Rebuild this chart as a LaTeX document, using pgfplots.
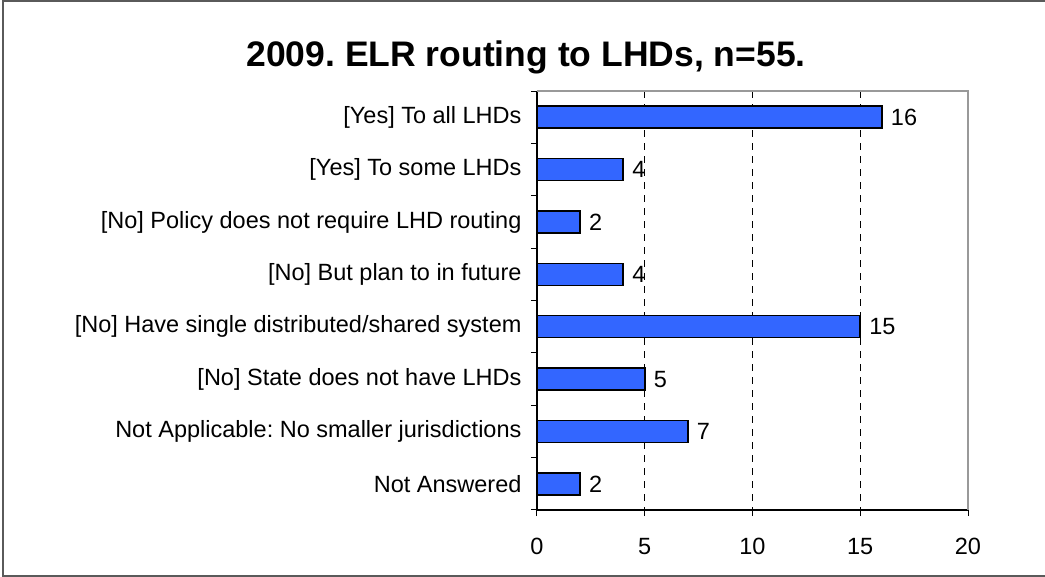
\documentclass[border=0pt]{standalone}
\usepackage{fontspec}
\setmainfont{Liberation Sans}
\usepackage{pgfplots}
\pgfplotsset{compat=1.18}
\definecolor{barblue}{RGB}{51,102,255}
\definecolor{framegray}{RGB}{90,90,90}
\frenchspacing
\begin{document}
\begin{tikzpicture}
  \useasboundingbox (0pt,0pt) rectangle (1045pt,577pt);
  % outer chart frame (right edge is cut off in the source)
  \draw[framegray, line width=2pt] (1045pt,1pt) -- (3pt,1pt) -- (3pt,576pt) -- (1045pt,576pt);
  \node[anchor=base, inner sep=0pt, font=\bfseries\fontsize{35.5}{40}\selectfont] at (526pt,510pt)
    {2009. ELR routing to LHDs, n=55.};
  \begin{axis}[
      at={(537pt,67pt)}, anchor=south west,
      scale only axis,
      width=431pt, height=419pt,
      xbar,
      bar width=22pt,
      xmin=0, xmax=20,
      ymin=0.5, ymax=8.5,
      y dir=reverse,
      axis x line*=bottom,
      axis y line*=left,
      axis line style={black, line width=1.2pt},
      xtick={0,5,10,15,20},
      ytick={1,...,8},
      yticklabels={{[Yes] To all LHDs},{[Yes] To some LHDs},{[No] Policy does not require LHD routing},{[No] But plan to in future},{[No] Have single distributed/shared system},{[No] State does not have LHDs},{Not Applicable: No smaller jurisdictions},{Not Answered}},
      minor ytick={0.5,1.5,...,8.5},
      major y tick style={draw=none},
      minor y tick style={black, line width=1pt},
      x tick style={black, line width=1pt},
      tick align=outside,
      major tick length=6pt,
      minor tick length=6pt,
      extra x ticks={5,10,15},
      extra x tick labels={},
      extra x tick style={grid=major, major tick length=0pt},
      major grid style={black, dashed, line width=0.9pt, dash pattern=on 7pt off 6pt},
      /pgf/number format/assume math mode=true,
      tick label style={font=\fontsize{23.5}{27}\selectfont},
      yticklabel style={xshift=-6pt},
      xticklabel style={yshift=-19pt},
      nodes near coords,
      every node near coord/.append style={font=\fontsize{23.5}{27}\selectfont, xshift=5pt},
      clip=false,
    ]
    \addplot[fill=barblue, draw=black, line width=1.6pt] coordinates {
      (16,1) (4,2) (2,3) (4,4) (15,5) (5,6) (7,7) (2,8)};
    \draw[gray!80, line width=1.5pt] (rel axis cs:0,1) -- (rel axis cs:1,1) -- (rel axis cs:1,0);
  \end{axis}
\end{tikzpicture}
\end{document}
